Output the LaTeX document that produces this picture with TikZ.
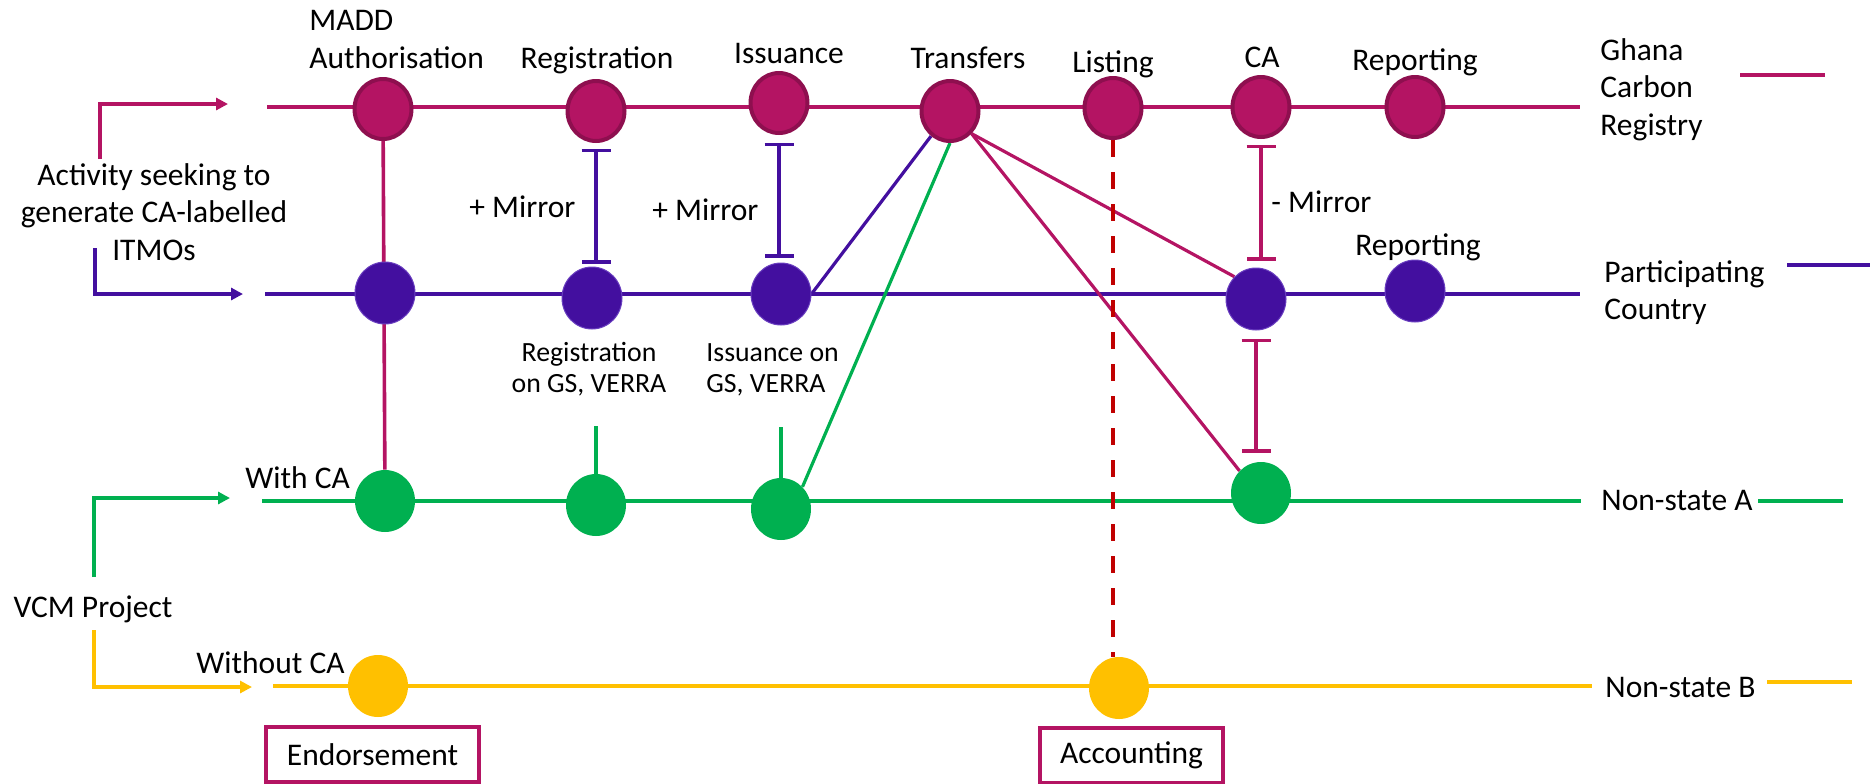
\documentclass[tikz,border=0pt]{standalone}
\usepackage{fontspec}
\setmainfont{Carlito}
\usetikzlibrary{shapes.geometric,arrows.meta,backgrounds}
\definecolor{gcrred}{HTML}{B41463}
\definecolor{gcrdark}{HTML}{8E0F4F}
\definecolor{pcblue}{HTML}{430F9F}
\definecolor{pcedge}{HTML}{6A3FC0}
\definecolor{nsgreen}{HTML}{00B050}
\definecolor{nsyellow}{HTML}{FFC000}
\definecolor{acred}{HTML}{C00000}
\begin{document}
\begin{tikzpicture}[x=0.5pt, y=-0.5pt,
  dot/.style={ellipse, minimum width=30pt, minimum height=31pt, inner sep=0pt},
  gdot/.style={dot, minimum width=28.5pt, minimum height=30pt, fill=gcrred, draw=gcrdark, line width=2pt},
  pdot/.style={dot, fill=pcblue, draw=pcedge, line width=0.5pt},
  adot/.style={dot, fill=nsgreen},
  bdot/.style={dot, fill=nsyellow},
  txt/.style={inner sep=0pt, font=\fontsize{15.75}{18.75}\selectfont},
  small/.style={inner sep=0pt, font=\fontsize{13.9}{15.5}\selectfont},
  lane/.style={line width=1.8pt},
  link/.style={line width=1.6pt},
  mirror/.style={line width=1.6pt, {Bar[width=14.5pt]}-{Bar[width=14.5pt]}},
  go/.style={line width=1.8pt, -{Triangle[length=6pt,width=6pt]}},
  box/.style={draw=gcrred, line width=1.7pt, minimum height=27.5pt, inner sep=0pt, font=\fontsize{15.75}{18.75}\selectfont}]
\useasboundingbox (0,0) rectangle (1870,783);

\node[gdot] (gMADD) at (383,109) {};
\node[gdot] (gReg) at (596,111) {};
\node[gdot] (gIss) at (779,103) {};
\node[gdot] (gTrf) at (950,111) {};
\node[gdot] (gLst) at (1113,108) {};
\node[gdot] (gCA) at (1261,107) {};
\node[gdot] (gRep) at (1415,107) {};

\node[pdot] (pMADD) at (385,293) {};
\node[pdot] (pReg) at (592,298) {};
\node[pdot] (pIss) at (781,294) {};
\node[pdot] (pCA) at (1256,299) {};
\node[pdot] (pRep) at (1415,291) {};

\node[adot] (nMADD) at (385,501) {};
\node[adot] (nReg) at (596,505) {};
\node[adot] (nIss) at (781,509) {};
\node[adot] (nCA) at (1261,493) {};

\node[bdot] (bEnd) at (378,686) {};
\node[bdot] (bAcc) at (1119,688) {};

\coordinate (gIn) at (267,107);
\coordinate (gOut) at (1580,107);
\coordinate (pIn) at (265,294);
\coordinate (pOut) at (1580,294);
\coordinate (nIn) at (262,501);
\coordinate (nOut) at (1581,501);
\coordinate (bIn) at (273,686);
\coordinate (bOut) at (1592,686);

\node[txt, anchor=north west, align=left] (lMADD) at (309,10) {MADD\\Authorisation};
\node[txt, anchor=base] (lReg) at (597,68) {Registration};
\node[txt, anchor=base] (lIss) at (789,63) {Issuance};
\node[txt, anchor=base] (lTrf) at (968,68) {Transfers};
\node[txt, anchor=base] (lLst) at (1113,72) {Listing};
\node[txt, anchor=base] (lCA) at (1262,67) {CA};
\node[txt, anchor=base] (lRep) at (1415,70) {Reporting};
\node[txt, anchor=base] (lRepP) at (1418,255) {Reporting};
\node[txt, anchor=base west] (lMirA) at (469,217) {+ Mirror};
\node[txt, anchor=base west] (lMirB) at (652,220) {+ Mirror};
\node[txt, anchor=base west] (lMirC) at (1271,212) {- Mirror};
\node[small, anchor=north, align=center] (lRegGS) at (589,342) {Registration\\on GS, VERRA};
\node[small, anchor=north west, align=left] (lIssGS) at (706,343) {Issuance on\\GS, VERRA};

\node[txt, anchor=north west, align=left] (lGCR) at (1600,38) {Ghana\\Carbon\\Registry};
\node[txt, anchor=north west, align=left] (lPC) at (1604,260) {Participating\\Country};
\node[txt, anchor=base west] (lNSA) at (1601,510) {Non-state A};
\node[txt, anchor=base west] (lNSB) at (1605,697) {Non-state B};

\node[txt, anchor=north, align=center] (act) at (154,163) {Activity seeking to\\generate CA-labelled\\ITMOs};
\node[txt, anchor=base] (vcm) at (93,617) {VCM Project};
\node[txt, anchor=base west] (withCA) at (245,488) {With CA};
\node[txt, anchor=base west] (woCA) at (196,673) {Without CA};

\node[box, minimum width=106.5pt] (endo) at (372.5,754.5) {Endorsement};
\node[box, minimum width=91.5pt] (acct) at (1131.5,755.5) {Accounting};

\begin{scope}[on background layer]
\draw[lane, gcrred] (gIn) -- (gOut);
\draw[lane, pcblue] (pIn) -- (pOut);
\draw[lane, nsgreen] (nIn) -- (nOut);
\draw[lane, nsyellow] (bIn) -- (bOut);
\draw[lane, gcrred] (gMADD) -- (nMADD);
\draw[link, pcblue] (gTrf) -- (pIss.east);
\draw[link, nsgreen] (gTrf.south) -- (nIss.north east);
\draw[link, gcrred] (gTrf.south east) -- (pCA.north west);
\draw[link, gcrred] (gTrf.south east) -- (nCA.north west);
\draw[acred, line width=2pt, dash pattern=on 8.5pt off 7.5pt] (gLst.south) -- (gLst.south |- bAcc.north);
\draw[link, nsgreen] (nReg.north) -- +(0,-48);
\draw[link, nsgreen] (nIss.north) -- +(0,-51);
\end{scope}

\draw[mirror, pcblue, shorten <=3pt, shorten >=1.5pt] (gReg.south) -- (gReg.south |- pReg.north);
\draw[mirror, pcblue, shorten <=4pt, shorten >=2.5pt] (gIss.south) -- (gIss.south |- pIss.north);
\draw[mirror, gcrred, shorten <=3pt, shorten >=3.5pt] (gCA.south) -- (gCA.south |- pCA.north);
\draw[mirror, gcrred, shorten <=4pt, shorten >=4.5pt] (pCA.south) -- (pCA.south |- nCA.north);

\draw[go, gcrred] (100,159) coordinate (actUp) |- (228,104);
\draw[go, pcblue] (95,248) coordinate (actDown) |- (243,294);
\draw[go, nsgreen] (94,577) coordinate (vcmUp) |- (230,498);
\draw[go, nsyellow] (94,630) coordinate (vcmDown) |- (252,687);

\draw[lane, gcrred] (1740,75) -- (1825,75);
\draw[lane, pcblue] (1787,265) -- (1870,265);
\draw[lane, nsgreen] ([xshift=2.5pt]lNSA.east |- nOut) -- +(85,0);
\draw[lane, nsyellow] (1767,682) -- (1852,682);
\end{tikzpicture}
\end{document}
